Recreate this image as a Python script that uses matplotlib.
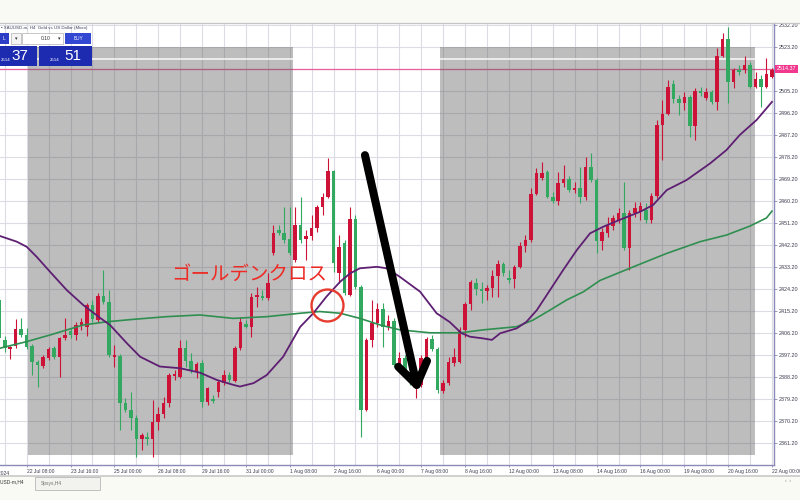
import numpy as np
import matplotlib
matplotlib.use("Agg")
import matplotlib.pyplot as plt
from matplotlib.patches import Rectangle
from matplotlib.lines import Line2D
import matplotlib.transforms as mtransforms

plt.rcParams['font.family'] = ['Liberation Sans', 'DejaVu Sans']

# ---------------- data (XAUUSD H4) ----------------
candle_index = list(range(-5, 137))
opens = [2419.8, 2403.5, 2399.8, 2401.0, 2408.0, 2405.5, 2401.0, 2394.5, 2392.8, 2396.1,
         2400.2, 2396.5, 2404.3, 2407.1, 2405.5, 2409.2, 2408.8, 2417.8, 2411.6, 2421.5,
         2419.0, 2396.5, 2396.9, 2377.7, 2374.8, 2371.6, 2363.0, 2363.8, 2363.0, 2369.9,
         2373.2, 2377.7, 2388.7, 2388.3, 2400.2, 2394.9, 2390.4, 2394.1, 2378.1, 2379.3,
         2382.2, 2385.9, 2389.1, 2386.7, 2400.2, 2410.0, 2408.8, 2421.1, 2421.5, 2420.6,
         2439.1, 2448.5, 2447.2, 2444.8, 2436.2, 2450.5, 2444.8, 2446.0, 2449.3, 2457.9,
         2462.0, 2472.6, 2430.9, 2443.1, 2421.9, 2453.0, 2425.1, 2374.8, 2403.5, 2410.4,
         2416.1, 2408.8, 2411.2, 2393.2, 2396.1, 2390.4, 2384.6, 2385.0, 2396.1, 2403.9,
         2399.8, 2382.6, 2385.9, 2394.1, 2394.5, 2407.6, 2418.2, 2426.8, 2424.3, 2423.5,
         2424.7, 2429.6, 2434.6, 2428.8, 2428.4, 2433.3, 2442.0, 2444.4, 2463.2, 2469.7,
         2472.2, 2462.0, 2460.3, 2467.7, 2469.3, 2464.8, 2465.6, 2462.0, 2474.2, 2468.9,
         2444.0, 2447.2, 2450.1, 2452.6, 2455.4, 2441.1, 2455.4, 2455.8, 2456.6, 2452.6,
         2462.4, 2491.4, 2495.9, 2508.2, 2502.1, 2500.4, 2502.9, 2491.0, 2505.3, 2502.5,
         2504.9, 2500.8, 2519.6, 2526.6, 2509.0, 2513.9, 2513.9, 2516.0, 2507.0, 2510.2,
         2507.0, 2511.1]
highs = [2421.5, 2405.1, 2401.0, 2412.1, 2412.5, 2408.4, 2401.8, 2395.3, 2397.3, 2400.6,
         2401.0, 2404.7, 2412.5, 2408.4, 2410.8, 2412.5, 2418.6, 2419.8, 2422.7, 2432.1,
         2423.9, 2401.4, 2397.7, 2379.7, 2382.2, 2372.8, 2365.4, 2365.8, 2378.9, 2376.1,
         2380.1, 2390.0, 2391.2, 2403.5, 2403.5, 2398.1, 2394.5, 2395.3, 2384.2, 2381.0,
         2387.1, 2391.2, 2390.4, 2401.0, 2412.9, 2411.6, 2422.7, 2425.1, 2423.9, 2430.9,
         2450.5, 2450.5, 2457.9, 2457.9, 2457.9, 2462.0, 2448.5, 2454.6, 2458.7, 2463.6,
         2477.9, 2473.0, 2446.4, 2444.4, 2457.9, 2454.6, 2426.0, 2404.3, 2419.8, 2418.6,
         2418.6, 2413.7, 2412.5, 2398.6, 2397.3, 2392.0, 2390.0, 2397.3, 2404.7, 2405.5,
         2400.6, 2387.1, 2396.5, 2400.2, 2408.8, 2419.0, 2428.0, 2428.8, 2427.2, 2426.0,
         2432.1, 2436.2, 2435.4, 2432.1, 2434.1, 2443.5, 2446.4, 2465.6, 2473.8, 2476.3,
         2473.0, 2464.0, 2472.2, 2475.1, 2470.6, 2468.1, 2474.2, 2478.3, 2479.9, 2469.7,
         2449.3, 2453.8, 2454.6, 2457.5, 2468.1, 2456.6, 2459.9, 2459.9, 2459.5, 2463.6,
         2493.5, 2501.6, 2509.8, 2509.8, 2503.7, 2504.9, 2503.7, 2506.6, 2507.0, 2506.6,
         2505.7, 2522.9, 2529.1, 2531.5, 2514.7, 2516.0, 2519.6, 2517.2, 2513.1, 2511.9,
         2518.8, 2514.7]
lows = [2402.6, 2398.6, 2395.7, 2400.2, 2404.7, 2399.8, 2389.1, 2384.2, 2392.0, 2395.3,
        2395.7, 2388.3, 2403.5, 2404.3, 2403.5, 2407.6, 2405.1, 2410.8, 2410.8, 2418.2,
        2396.5, 2392.4, 2366.6, 2374.0, 2366.6, 2355.6, 2358.5, 2360.5, 2355.6, 2366.6,
        2371.6, 2376.1, 2387.1, 2387.9, 2392.4, 2390.0, 2387.9, 2376.1, 2376.9, 2377.7,
        2380.1, 2385.0, 2386.3, 2386.3, 2399.4, 2408.4, 2404.7, 2417.0, 2419.8, 2419.8,
        2438.2, 2446.4, 2443.1, 2438.2, 2435.4, 2443.1, 2436.2, 2444.4, 2447.6, 2454.6,
        2461.6, 2431.3, 2426.8, 2421.9, 2421.5, 2424.3, 2363.8, 2374.4, 2400.6, 2408.8,
        2400.6, 2407.6, 2392.4, 2392.0, 2389.1, 2385.0, 2379.7, 2384.2, 2392.4, 2399.0,
        2381.8, 2381.8, 2385.0, 2392.8, 2394.1, 2404.7, 2415.7, 2421.9, 2418.6, 2419.8,
        2421.1, 2421.1, 2429.6, 2426.8, 2424.7, 2432.9, 2439.5, 2443.5, 2462.8, 2468.9,
        2461.6, 2459.5, 2458.7, 2466.0, 2464.0, 2463.6, 2459.5, 2460.7, 2468.1, 2439.1,
        2440.3, 2445.6, 2448.5, 2451.3, 2440.3, 2432.1, 2453.8, 2452.6, 2451.3, 2451.3,
        2461.6, 2477.1, 2495.5, 2500.4, 2495.5, 2497.6, 2486.5, 2485.3, 2503.3, 2501.6,
        2500.0, 2497.6, 2519.2, 2500.4, 2506.6, 2511.9, 2512.7, 2506.6, 2506.6, 2498.8,
        2506.6, 2510.6]
closes = [2404.3, 2400.2, 2400.6, 2408.0, 2405.5, 2400.6, 2394.5, 2393.2, 2396.5, 2399.8,
          2396.5, 2404.3, 2405.5, 2405.5, 2409.6, 2410.8, 2417.8, 2412.1, 2421.5, 2419.0,
          2397.3, 2397.3, 2377.7, 2374.8, 2371.6, 2363.0, 2364.6, 2363.0, 2369.9, 2373.2,
          2377.7, 2389.1, 2389.6, 2400.2, 2394.9, 2391.2, 2393.6, 2378.1, 2383.8, 2378.5,
          2386.3, 2389.1, 2387.1, 2400.2, 2410.8, 2408.8, 2421.1, 2421.9, 2420.6, 2426.8,
          2447.2, 2447.2, 2444.4, 2439.1, 2450.5, 2444.4, 2446.0, 2449.3, 2457.9, 2462.0,
          2472.6, 2435.0, 2441.5, 2422.7, 2453.0, 2425.1, 2374.8, 2403.5, 2410.4, 2416.1,
          2408.8, 2411.2, 2393.2, 2396.1, 2390.4, 2387.1, 2385.9, 2396.1, 2403.9, 2399.8,
          2383.0, 2385.9, 2394.5, 2396.5, 2407.6, 2418.2, 2427.2, 2424.3, 2423.5, 2424.7,
          2429.6, 2434.6, 2430.9, 2428.0, 2433.3, 2442.0, 2444.4, 2463.2, 2471.8, 2471.8,
          2462.0, 2460.3, 2467.7, 2469.3, 2464.8, 2465.6, 2462.0, 2474.2, 2468.9, 2444.0,
          2447.6, 2450.5, 2453.3, 2455.4, 2441.1, 2455.4, 2457.5, 2458.3, 2452.6, 2462.4,
          2491.4, 2495.9, 2507.0, 2502.1, 2500.4, 2502.9, 2491.0, 2505.3, 2504.5, 2504.9,
          2500.8, 2519.6, 2526.6, 2509.0, 2513.9, 2513.1, 2516.0, 2507.0, 2510.2, 2507.0,
          2512.3, 2513.9]

# moving averages (candle index, price)
ma_fast_x = [-4.87, -1.82, 0, 1.82, 4.25, 7.3, 10.3, 13.4, 15.2, 18.25, 20.7, 24.3, 28.0,
             31.6, 34.7, 37.7, 38.9, 41.4, 43.8, 46.8, 49.9, 52.3, 54.7, 57.2, 59.0, 60.8,
             63.9, 65.7, 68.1, 71.8, 74.8, 77.2, 79.3, 80.9, 83.3, 84.9, 86.4, 89.4, 91.2,
             93.1, 95.5, 97.9, 100.4, 102.8, 105.2, 108.2, 111.9, 114.3, 116.8, 120.4,
             124.7, 127.7, 130.1, 133.2, 136.0]
ma_fast_y = [2446.0, 2443.7, 2441.6, 2437.5, 2431.4, 2423.9, 2417.8, 2412.5, 2409.6, 2402.2,
             2396.6, 2392.6, 2391.9, 2390.1, 2387.1, 2385.1, 2384.4, 2385.8, 2389.1, 2396.6,
             2408.8, 2414.4, 2421.2, 2427.3, 2430.7, 2432.8, 2433.4, 2432.8, 2429.3, 2423.2,
             2414.4, 2410.8, 2406.3, 2404.8, 2404.1, 2403.5, 2406.2, 2408.2, 2410.9, 2415.7,
             2423.9, 2432.1, 2440.3, 2447.1, 2449.8, 2452.6, 2455.9, 2458.7, 2464.8, 2468.9,
             2475.7, 2481.2, 2487.3, 2493.5, 2500.9]
ma_slow_x = [-4.87, 0, 4.25, 10.3, 14.6, 19.45, 25.5, 31.6, 37.7, 43.8, 49.9, 53.5, 57.2,
             60.8, 64.5, 68.1, 73.6, 79.1, 83.3, 89.4, 92.4, 95.5, 98.5, 101.6, 104.6, 110.7,
             116.8, 122.9, 127.7, 132.0, 135.0, 136.0]
ma_slow_y = [2400.1, 2402.8, 2405.5, 2409.6, 2410.9, 2411.9, 2413.0, 2413.7, 2412.3, 2413.0,
             2414.4, 2415.1, 2414.4, 2412.3, 2409.6, 2407.6, 2406.4, 2406.4, 2407.6, 2408.9,
             2411.6, 2415.7, 2419.8, 2423.2, 2427.8, 2433.4, 2438.9, 2443.7, 2446.4, 2450.1,
             2453.4, 2456.2]

first_time_label_index, first_time_label = -8, '19 Jul 2024'
time_tick_index = [0, 8, 16, 24, 32, 40, 48, 56, 64, 72, 80, 88, 96, 104, 112, 120, 128, 136]
time_tick_labels = ['22 Jul 08:00', '23 Jul 16:00', '25 Jul 00:00', '26 Jul 08:00',
                    '29 Jul 16:00', '31 Jul 00:00', '1 Aug 08:00', '2 Aug 16:00', '6 Aug 00:00',
                    '7 Aug 08:00', '8 Aug 16:00', '12 Aug 00:00', '13 Aug 08:00', '14 Aug 16:00',
                    '16 Aug 00:00', '19 Aug 08:00', '20 Aug 16:00', '22 Aug 00:00']
price_ticks = [2361.20, 2370.20, 2379.20, 2388.20, 2397.20, 2406.20, 2415.20, 2424.20, 2433.20,
               2442.20, 2451.20, 2460.20, 2469.20, 2478.20, 2487.20, 2496.20, 2505.20, 2514.20,
               2523.20, 2532.20]

shade_ranges = [(0.24, 48.6), (75.4, 132.9)]
shade_top, shade_bottom = 2523.2, 2356.2
bid_price, ask_price = 2514.37, 2514.51
upper_line_price = 2518.3

cross_label = 'ゴールデンクロス'
cross_label_pos = (40.6, 2430.5)
cross_circle_pos = (54.75, 2417.8)
arrow_shaft_x, arrow_shaft_y = [61.73, 71.17], [2479.1, 2385.1]
arrow_head_x, arrow_head_y = [67.81, 71.17, 73.05], [2392.5, 2385.1, 2394.9]

# ---------------- figure ----------------
W, H = 800, 500
fig = plt.figure(figsize=(8, 5), dpi=100, facecolor='#fafaf4')


def fx(px):
    return px / W


def fy(py):
    return 1 - py / H


# white chart band and frame lines
fig.add_artist(Rectangle((0, fy(476)), 1, fy(22.7) - fy(476), transform=fig.transFigure,
                         facecolor='white', edgecolor='none', zorder=0))
fig.add_artist(Line2D([0, 1], [fy(22.7), fy(22.7)], transform=fig.transFigure,
                      color='#c4c4c8', lw=0.9, zorder=1))
fig.add_artist(Line2D([0, 1], [fy(476), fy(476)], transform=fig.transFigure,
                      color='#c8c8c8', lw=1.2, zorder=1))

ax = fig.add_axes([0, fy(465), 774 / W, (465 - 22.7) / H])
ax.set_facecolor('white')

# ticks & grid (limits set afterwards so off-screen ticks do not widen the view)
ax.set_axisbelow(True)
ax.set_xticks(time_tick_index)
ax.set_xticklabels(time_tick_labels)
ax.set_xticks(np.arange(-4, 137, 4), minor=True)
ax.set_yticks(price_ticks)
ax.set_yticklabels(['%.2f' % p for p in price_ticks])
ax.set_xlim(-4.87, 136.37)
ax.set_ylim(2352.3, 2533.3)
ax.grid(True, which='both', axis='x', color='#dcdce4', lw=0.8)
ax.grid(True, which='major', axis='y', color='#dcdce4', lw=0.8)

for s in ['top', 'left']:
    ax.spines[s].set_visible(False)
for s in ['right', 'bottom']:
    ax.spines[s].set_color('#8a8ab8')
    ax.spines[s].set_linewidth(1.0)

ax.yaxis.tick_right()
ax.tick_params(axis='y', which='major', labelsize=3.9, colors='#8a8ab8', labelcolor='#3c3c50',
               length=2.2, width=0.6, pad=1.0)
ax.tick_params(axis='x', which='major', labelsize=3.6, colors='#8a8ab8', labelcolor='#3c3c50',
               length=1.5, width=0.6, pad=1.2)
ax.tick_params(axis='x', which='minor', length=0)
for lab in ax.get_xticklabels():
    lab.set_ha('left')

# the partly hidden first date label at the left edge
xtrans = mtransforms.blended_transform_factory(ax.transData, ax.transAxes)
ax.text(first_time_label_index, -0.0125, first_time_label, transform=xtrans, ha='left', va='top',
        fontsize=3.6, color='#3c3c50', clip_on=False)

# bid line (under shading), shading, upper light line
ax.axhline(bid_price, color='#e8609a', lw=0.9, zorder=1.2)
for x0, x1 in shade_ranges:
    ax.add_patch(Rectangle((x0, shade_bottom), x1 - x0, shade_top - shade_bottom,
                           facecolor='#5a5a5a', alpha=0.4, edgecolor='none', zorder=1.5))
    ax.plot([x0, x1], [upper_line_price, upper_line_price], color='white', lw=1.2,
            alpha=0.85, zorder=1.6)

# candles (red = rising, green = falling)
o = np.array(opens)
h = np.array(highs)
l = np.array(lows)
c = np.array(closes)
xi = np.array(candle_index)
up = c >= o
col = np.where(up, '#cc1236', '#33a860')
ax.vlines(xi, l, h, colors=col, lw=0.8, zorder=3)
bottoms = np.minimum(o, c)
heights = np.maximum(np.abs(c - o), 0.4)
ax.bar(xi, heights, bottom=bottoms, width=0.64, color=col, linewidth=0, zorder=3.1)

# moving averages
ax.plot(ma_slow_x, ma_slow_y, color='#2f8f50', lw=1.2, zorder=4)
ax.plot(ma_fast_x, ma_fast_y, color='#5e1f72', lw=1.3, zorder=4.1)

# annotations
ax.text(cross_label_pos[0], cross_label_pos[1], cross_label, ha='center', va='center',
        color='#ee2a24', fontsize=14, family=['Noto Sans CJK JP', 'DejaVu Sans'], zorder=6)
ax.plot([cross_circle_pos[0]], [cross_circle_pos[1]], marker='o', ms=23, mfc='none',
        mec='#e63c30', mew=1.7, zorder=6)
ax.plot(arrow_shaft_x, arrow_shaft_y, color='black', lw=5.8, solid_capstyle='round', zorder=7)
ax.plot(arrow_head_x, arrow_head_y, color='black', lw=5.8, solid_capstyle='round',
        solid_joinstyle='round', zorder=7)

# current price box on the price scale
trans = mtransforms.blended_transform_factory(ax.transAxes, ax.transData)
ax.text(1.004, bid_price, '%.2f' % bid_price, transform=trans, ha='left', va='center',
        fontsize=3.9, color='white', clip_on=False, zorder=10,
        bbox=dict(boxstyle='square,pad=0.35', facecolor='#f2388e', edgecolor='none'))

# ---------------- trading panel (top-left) ----------------
def box(x0, y0, x1, y1, fc, ec='none', lw=0.5):
    fig.add_artist(Rectangle((fx(x0), fy(y1)), fx(x1) - fx(x0), fy(y0) - fy(y1),
                             transform=fig.transFigure, facecolor=fc, edgecolor=ec, lw=lw,
                             zorder=20))


fig.text(fx(1), fy(28.5), '▪ XAUUSD-m, H4  Gold vs US Dollar (Micro)', fontsize=3.2,
         color='#404060', va='center', ha='left', zorder=21)
box(0, 33, 9, 44, '#2b3cc6')
fig.text(fx(3), fy(38.5), 'L', fontsize=3.4, color='white', va='center', zorder=21)
box(11, 33, 21, 44, '#f4f4f4', '#b0b0b0')
fig.text(fx(16), fy(38.5), '▾', fontsize=3.6, color='#333333', va='center', ha='center', zorder=21)
box(22, 33, 63, 44, 'white', '#b0b0b0')
fig.text(fx(46), fy(38.5), '0.10', fontsize=3.6, color='#333333', va='center', ha='center', zorder=21)
fig.text(fx(59), fy(38.5), '▾', fontsize=3.6, color='#333333', va='center', ha='center', zorder=21)
box(65, 33, 91, 44, '#3248d2')
fig.text(fx(78), fy(38.5), 'BUY', fontsize=3.4, color='white', va='center', ha='center', zorder=21)
box(0, 46, 37, 65.5, '#1d2bb0')
box(39, 46, 92, 65.5, '#1d2bb0')
fig.text(fx(0.5), fy(60), '2514', fontsize=3.2, color='white', va='center', ha='left', zorder=21)
fig.text(fx(11.5), fy(56), '37', fontsize=11, color='white', va='center', ha='left', zorder=21)
fig.text(fx(50), fy(60), '2514', fontsize=3.2, color='white', va='center', ha='left', zorder=21)
fig.text(fx(64), fy(56), '51', fontsize=11, color='white', va='center', ha='left', zorder=21)

# ---------------- bottom tab bar ----------------
fig.text(fx(-9), fy(482), 'XAUUSD-m,H4', fontsize=3.5, color='#333333', va='center', ha='left')
fig.add_artist(Rectangle((fx(35), fy(490)), fx(65), fy(477) - fy(490), transform=fig.transFigure,
                         facecolor='#f2f2ee', edgecolor='#b8b8b8', lw=0.6, zorder=2))
fig.text(fx(41), fy(483), 'Spsys,H4', fontsize=3.5, color='#707070', va='center', ha='left', zorder=3)
fig.text(fx(785), fy(480), '‹  ›', fontsize=3.5, color='#808080', va='center', ha='left')

fig.savefig('out.png', dpi=100, facecolor=fig.get_facecolor())
